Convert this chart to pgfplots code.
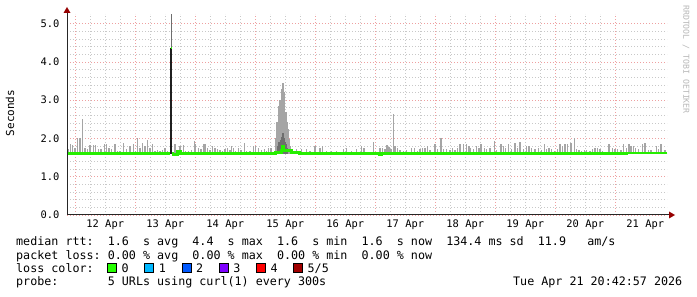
\documentclass[border=0pt]{standalone}
\usepackage{pgfplots}
\pgfplotsset{compat=1.18}
\usepackage{pgfplotstable}
\usepackage{fontspec}
\setmonofont{DejaVu Sans Mono}
\definecolor{gridred}{RGB}{238,160,160}
\definecolor{gridgray}{RGB}{200,200,200}
\definecolor{smoke}{RGB}{165,165,165}
\definecolor{smokedark}{RGB}{110,110,110}
\definecolor{medgreen}{RGB}{38,238,0}
\definecolor{arrowred}{RGB}{150,0,0}
\definecolor{lc0}{RGB}{38,255,0}
\definecolor{lc1}{RGB}{0,184,255}
\definecolor{lc2}{RGB}{0,89,255}
\definecolor{lc3}{RGB}{126,0,255}
\definecolor{lc4}{RGB}{255,0,0}
\definecolor{lc5}{RGB}{160,0,0}
\newcommand\legfont{\fontsize{11.7}{14}\selectfont\ttfamily}
\newcommand\lgt[3]{\node[anchor=base west, inner sep=0pt, font=\legfont] at ({16pt+#1*7.05pt},#2pt) {#3};}
\newcommand\sw[3]{\filldraw[fill=#2, draw=black, line width=0.8pt] ({107.5pt+#1*37.2pt},24.6pt) rectangle ++(9pt,9pt);
  \node[anchor=base west, inner sep=0pt, font=\legfont] at ({121.5pt+#1*37.2pt},24.3pt) {#3};}

% smoke spikes: d = days since 12 Apr 00:00, b = base, t = top (seconds)
\pgfplotstableread{
d b t
-0.116 1.6 1.72
-0.076 1.6 1.85
-0.049 1.6 1.84
-0.004 1.6 1.75
0.041 1.6 2.00
0.079 1.6 2.00
0.118 1.6 2.50
0.163 1.6 1.76
0.208 1.6 1.72
0.246 1.6 1.84
0.301 1.6 1.82
0.341 1.6 1.82
0.384 1.6 1.73
0.429 1.6 1.72
0.484 1.6 1.85
0.524 1.6 1.85
0.563 1.6 1.76
0.608 1.6 1.72
0.663 1.6 1.85
0.708 1.6 1.67
0.746 1.6 1.67
0.801 1.6 1.89
0.858 1.6 1.73
0.913 1.6 1.79
0.968 1.6 1.85
1.008 1.6 1.67
1.041 1.6 2.02
1.079 1.6 1.76
1.118 1.6 1.89
1.163 1.6 1.80
1.208 1.6 1.97
1.246 1.6 1.76
1.284 1.6 1.85
1.329 1.6 1.67
1.374 1.6 1.70
1.413 1.6 1.67
1.451 1.6 1.70
1.496 1.6 1.76
1.541 1.6 1.67
1.663 1.6 1.85
1.746 1.6 1.80
1.801 1.6 1.82
1.841 1.6 1.67
1.884 1.6 1.67
1.941 1.6 1.70
1.984 1.6 1.93
2.008 1.6 1.85
2.051 1.6 1.76
2.096 1.6 1.73
2.134 1.6 1.85
2.163 1.6 1.85
2.208 1.6 1.76
2.246 1.6 1.70
2.284 1.6 1.79
2.329 1.6 1.76
2.374 1.6 1.72
2.413 1.6 1.70
2.451 1.6 1.67
2.496 1.6 1.72
2.541 1.6 1.76
2.579 1.6 1.70
2.608 1.6 1.80
2.634 1.6 1.76
2.674 1.6 1.67
2.718 1.6 1.76
2.763 1.6 1.70
2.818 1.6 1.89
2.858 1.6 1.67
2.913 1.6 1.67
2.968 1.6 1.80
3.008 1.6 1.80
3.051 1.6 1.76
3.108 1.6 1.70
3.151 1.6 1.73
3.191 1.6 1.67
3.218 1.6 1.76
3.263 1.6 1.76
3.346 1.6 2.00
3.363 1.6 2.42
3.379 1.6 2.42
3.396 1.6 2.85
3.413 1.6 3.00
3.429 1.6 3.00
3.446 1.6 3.28
3.463 1.6 3.44
3.479 1.6 3.20
3.496 1.6 2.68
3.513 1.6 2.68
3.529 1.6 2.42
3.546 1.6 2.24
3.563 1.6 1.98
3.579 1.6 1.80
3.691 1.6 1.72
3.774 1.6 1.72
3.858 1.6 1.72
3.913 1.6 1.67
3.996 1.6 1.80
4.079 1.6 1.76
4.118 1.6 1.80
4.191 1.6 1.67
4.274 1.6 1.66
4.358 1.6 1.66
4.468 1.6 1.72
4.524 1.6 1.76
4.608 1.6 1.67
4.691 1.6 1.72
4.774 1.6 1.80
4.813 1.6 1.76
4.968 1.6 1.91
5.079 1.6 1.76
5.118 1.6 1.76
5.163 1.6 1.73
5.196 1.6 1.82
5.229 1.6 1.78
5.263 1.6 1.73
5.301 1.6 2.63
5.329 1.6 1.79
5.374 1.6 1.76
5.413 1.6 1.70
5.468 1.6 1.68
5.524 1.6 1.70
5.608 1.6 1.76
5.651 1.6 1.76
5.708 1.6 1.68
5.746 1.6 1.73
5.784 1.6 1.76
5.829 1.6 1.76
5.874 1.6 1.80
5.913 1.6 1.70
5.996 1.6 1.85
6.041 1.6 1.73
6.096 1.6 2.00
6.134 1.6 1.73
6.191 1.6 1.73
6.246 1.6 1.70
6.284 1.6 1.76
6.329 1.6 1.70
6.374 1.6 1.76
6.413 1.6 1.85
6.468 1.6 1.85
6.524 1.6 1.85
6.563 1.6 1.80
6.579 1.6 1.76
6.634 1.6 1.72
6.691 1.6 1.80
6.729 1.6 1.76
6.763 1.6 1.85
6.818 1.6 1.76
6.858 1.6 1.72
6.913 1.6 1.76
6.984 1.6 1.93
7.024 1.6 1.70
7.096 1.6 1.85
7.134 1.6 1.80
7.174 1.6 1.76
7.218 1.6 1.85
7.274 1.6 1.72
7.329 1.6 1.87
7.374 1.6 1.76
7.413 1.6 1.90
7.468 1.6 1.72
7.524 1.6 1.80
7.563 1.6 1.80
7.608 1.6 1.76
7.663 1.6 1.72
7.718 1.6 1.76
7.774 1.6 1.70
7.818 1.6 1.85
7.858 1.6 1.73
7.896 1.6 1.76
7.941 1.6 1.72
7.984 1.6 1.67
8.041 1.6 1.73
8.079 1.6 1.85
8.118 1.6 1.80
8.163 1.6 1.85
8.208 1.6 1.85
8.263 1.6 1.89
8.318 1.6 2.02
8.358 1.6 1.73
8.396 1.6 1.70
8.441 1.6 1.67
8.484 1.6 1.70
8.524 1.6 1.70
8.579 1.6 1.67
8.618 1.6 1.73
8.663 1.6 1.76
8.708 1.6 1.76
8.746 1.6 1.73
8.784 1.6 1.67
8.841 1.6 1.65
8.896 1.6 1.85
8.951 1.6 1.76
8.996 1.6 1.72
9.041 1.6 1.73
9.096 1.6 1.70
9.134 1.6 1.85
9.191 1.6 1.76
9.229 1.6 1.85
9.263 1.6 1.80
9.301 1.6 1.80
9.341 1.6 1.76
9.384 1.6 1.72
9.451 1.6 1.85
9.496 1.6 1.87
9.551 1.6 1.70
9.596 1.6 1.70
9.691 1.6 1.80
9.718 1.6 1.72
9.763 1.6 1.85
9.829 1.6 1.70
}\smoke

\pgfplotstableread{
d b t
3.379 1.6 1.80
3.396 1.6 1.90
3.413 1.6 1.85
3.429 1.6 1.95
3.446 1.6 2.05
3.463 1.6 2.15
3.479 1.6 2.00
3.496 1.6 1.90
3.513 1.6 1.85
3.529 1.6 1.75
}\smokedarktab

\begin{document}
\begin{tikzpicture}
\useasboundingbox (0pt,0pt) rectangle (697pt,297pt);
\fill[white] (0pt,0pt) rectangle (697pt,297pt);
\begin{axis}[
  at={(67pt,82pt)}, anchor=south west,
  scale only axis, width=600pt, height=201pt,
  xmin=-0.1375, xmax=9.8625, ymin=0, ymax=5.25,
  axis line style={draw=none},
  tick pos=left,
  major tick length=0pt, minor tick length=0pt,
  xtick={0,...,9}, xticklabels={},
  minor x tick num=3,
  ytick={0,1,...,5}, minor y tick num=4,
  grid=both,
  major grid style={draw=gridred, line width=0.6pt, dash pattern=on 1pt off 2pt},
  minor grid style={draw=gridgray, line width=0.6pt, dash pattern=on 1pt off 2pt},
  extra x ticks={0.5,1.5,...,9.5},
  extra x tick labels={12 Apr,13 Apr,14 Apr,15 Apr,16 Apr,17 Apr,18 Apr,19 Apr,20 Apr,21 Apr},
  extra x tick style={grid=none, major tick length=0pt},
  xticklabel style={font=\fontsize{10.4}{12}\selectfont\ttfamily, anchor=north, inner sep=0pt, yshift=-4.5pt},
  yticklabel style={font=\fontsize{10.4}{12}\selectfont\ttfamily, anchor=east, inner sep=0pt, xshift=-7.5pt},
  /pgf/number format/.cd, fixed, fixed zerofill, precision=1, assume math mode=true,
  /pgfplots/.cd,
  unbounded coords=jump,
  clip=false,
]
% light smoke
\addplot[draw=none, mark=none, forget plot,
  error bars/.cd, y dir=plus, y explicit, error mark=none,
  error bar style={draw=smoke, solid, line width=1.1pt}]
  table[x=d, y=b, y error plus expr=\thisrow{t}-\thisrow{b}] {\smoke};
% dark smoke core of the 15 Apr cluster
\addplot[draw=none, mark=none, forget plot,
  error bars/.cd, y dir=plus, y explicit, error mark=none,
  error bar style={draw=smokedark, solid, line width=1.1pt}]
  table[x=d, y=b, y error plus expr=\thisrow{t}-\thisrow{b}] {\smokedarktab};
% 13 Apr outlier: thin smoke up to the maximum and dark core
\addplot[draw=none, mark=none, forget plot,
  error bars/.cd, y dir=plus, y explicit, error mark=none,
  error bar style={draw=smokedark, solid, line width=1pt}]
  coordinates {(1.600,4.36) +- (0,0.89)};
\addplot[draw=none, mark=none, forget plot,
  error bars/.cd, y dir=plus, y explicit, error mark=none,
  error bar style={draw=black!88, solid, line width=2.3pt}]
  coordinates {(1.596,1.6) +- (0,2.76)};
% median rtt (loss 0 = green)
\addplot[medgreen, line width=2.8pt, mark=none] coordinates {
(-0.1375,1.6) (1.585,1.6) (1.59,nan)
(1.607,1.6) (1.63,1.6) (1.63,1.57) (1.71,1.57) (1.71,1.65) (1.76,1.65) (1.76,1.6)
(3.34,1.6) (3.34,1.64) (3.44,1.64) (3.44,1.68) (3.455,1.68) (3.455,1.8) (3.47,1.8) (3.47,1.68) (3.6,1.68)
(3.6,1.63) (3.74,1.63) (3.74,1.6) (5.07,1.6) (5.07,1.57) (5.1,1.57) (5.1,1.6)
(9.195,1.6) (9.195,1.62) (9.8625,1.62)};
\addplot[medgreen, line width=2pt, mark=none] coordinates {(1.589,4.36) (1.603,4.36)};
\end{axis}
% axes with arrow heads
\draw[black!85, line width=1pt] (67pt,82pt) -- (670pt,82pt);
\draw[black!85, line width=1pt] (67pt,82pt) -- (67pt,285pt);
\fill[arrowred] (669pt,85.5pt) -- (675pt,82pt) -- (669pt,78.5pt) -- cycle;
\fill[arrowred] (63.5pt,284pt) -- (67pt,290pt) -- (70.5pt,284pt) -- cycle;
% axis title and watermark
\node[rotate=90, inner sep=0pt, font=\fontsize{11}{13}\selectfont\ttfamily] at (10pt,184pt) {Seconds};
\node[rotate=-90, anchor=west, inner sep=0pt, font=\fontsize{8.2}{10}\selectfont\ttfamily, text=black!28] at (686pt,292pt) {RRDTOOL / TOBI OETIKER};
% legend
\lgt{0}{51}{median rtt:}
\lgt{13}{51}{1.6} \lgt{18}{51}{s avg}
\lgt{25}{51}{4.4} \lgt{30}{51}{s max}
\lgt{37}{51}{1.6} \lgt{42}{51}{s min}
\lgt{49}{51}{1.6} \lgt{54}{51}{s now}
\lgt{61}{51}{134.4} \lgt{67}{51}{ms sd}
\lgt{74}{51}{11.9} \lgt{81}{51}{am/s}
\lgt{0}{37.7}{packet loss:}
\lgt{13}{37.7}{0.00} \lgt{18}{37.7}{\% avg}
\lgt{25}{37.7}{0.00} \lgt{30}{37.7}{\% max}
\lgt{37}{37.7}{0.00} \lgt{42}{37.7}{\% min}
\lgt{49}{37.7}{0.00} \lgt{54}{37.7}{\% now}
\lgt{0}{24.3}{loss color:}
\sw{0}{lc0}{0}
\sw{1}{lc1}{1}
\sw{2}{lc2}{2}
\sw{3}{lc3}{3}
\sw{4}{lc4}{4}
\sw{5}{lc5}{5/5}
\lgt{0}{11}{probe:}
\lgt{13}{11}{5 URLs using curl(1) every 300s}
\node[anchor=base west, inner sep=0pt, font=\legfont] at (513pt,11pt) {Tue Apr 21 20:42:57 2026};
\end{tikzpicture}
\end{document}
